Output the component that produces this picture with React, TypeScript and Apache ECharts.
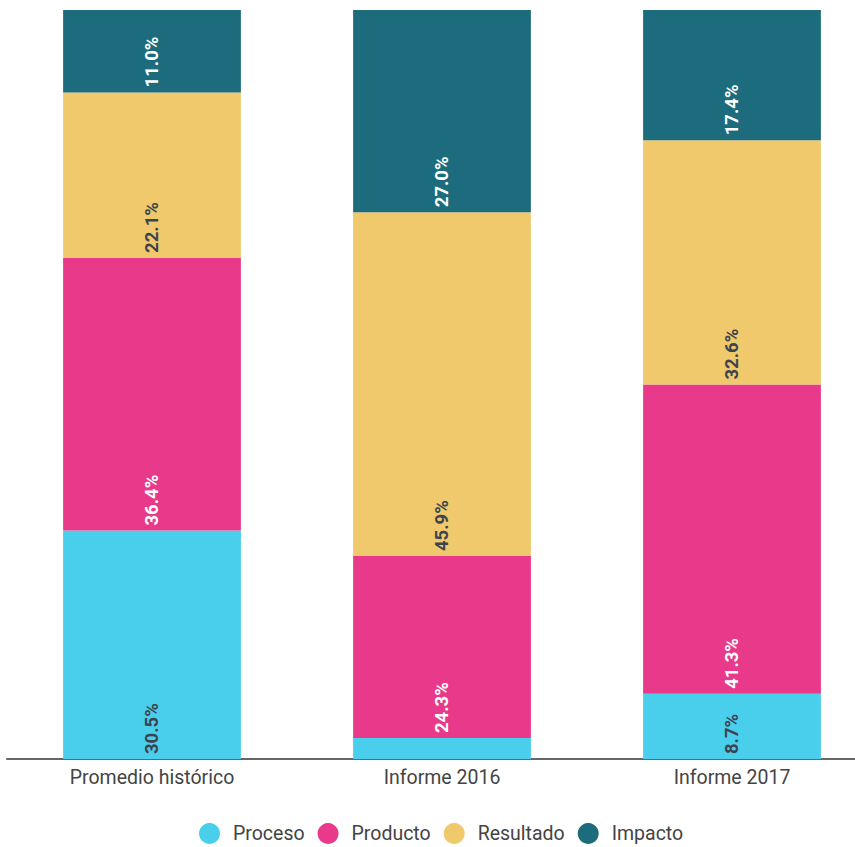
import React, { useEffect, useRef } from "react";
import * as echarts from "echarts";

const categories = ["Promedio histórico", "Informe 2016", "Informe 2017"];
const seriesNames = ["Proceso", "Producto", "Resultado", "Impacto"];
const proceso = [30.5, 2.8, 8.7];
const producto = [36.4, 24.3, 41.3];
const resultado = [22.1, 45.9, 32.6];
const impacto = [11.0, 27.0, 17.4];

const colors = ["#49CEEC", "#E9398A", "#EFC96B", "#1C6C7D"];
const labelColors = ["#3d4450", "#ffffff", "#3d4450", "#ffffff"];

export default function App() {
  const ref = useRef<HTMLDivElement>(null);
  useEffect(() => {
    if (!ref.current) return;
    const chart = echarts.init(ref.current, null, { renderer: "svg" });
    const allData = [proceso, producto, resultado, impacto];
    const series = allData.map((vals, i) => ({
      name: seriesNames[i],
      type: "bar",
      stack: "total",
      barWidth: "61.3%",
      itemStyle: { color: colors[i] },
      data: vals.map((v) => ({ value: v, label: { show: v >= 5 } })),
      label: {
        show: true,
        position: "insideBottom",
        distance: 5,
        rotate: 90,
        align: "left",
        verticalAlign: "middle",
        fontFamily: "Roboto",
        fontSize: 18.5,
        fontWeight: "bold",
        color: labelColors[i],
        formatter: (p: any) => Number(p.value).toFixed(1) + "%",
      },
    }));
    chart.setOption({
      animation: false,
      textStyle: { fontFamily: "Roboto" },
      grid: { left: 7, right: 0, top: 10, bottom: 88, containLabel: false },
      legend: {
        left: 194,
        top: 818,
        icon: "circle",
        itemWidth: 21,
        itemHeight: 21,
        itemGap: 13,
        textStyle: { fontFamily: "Roboto", fontSize: 19.5, color: "#444", padding: [0, 0, 0, 8] },
        data: seriesNames,
      },
      xAxis: {
        type: "category",
        data: categories,
        axisTick: { show: false },
        axisLine: { lineStyle: { color: "#666", width: 2 } },
        axisLabel: { fontFamily: "Roboto", fontSize: 19.5, color: "#444", margin: 8 },
      },
      yAxis: {
        type: "value",
        min: 0,
        max: 100,
        show: false,
        splitLine: { show: false },
      },
      series,
    });
    return () => chart.dispose();
  }, []);
  return (
    <div style={{ position: "absolute", left: 0, top: 0, width: 855, height: 847, overflow: "hidden" }}>
      <div ref={ref} style={{ width: 877, height: 847 }} />
    </div>
  );
}
